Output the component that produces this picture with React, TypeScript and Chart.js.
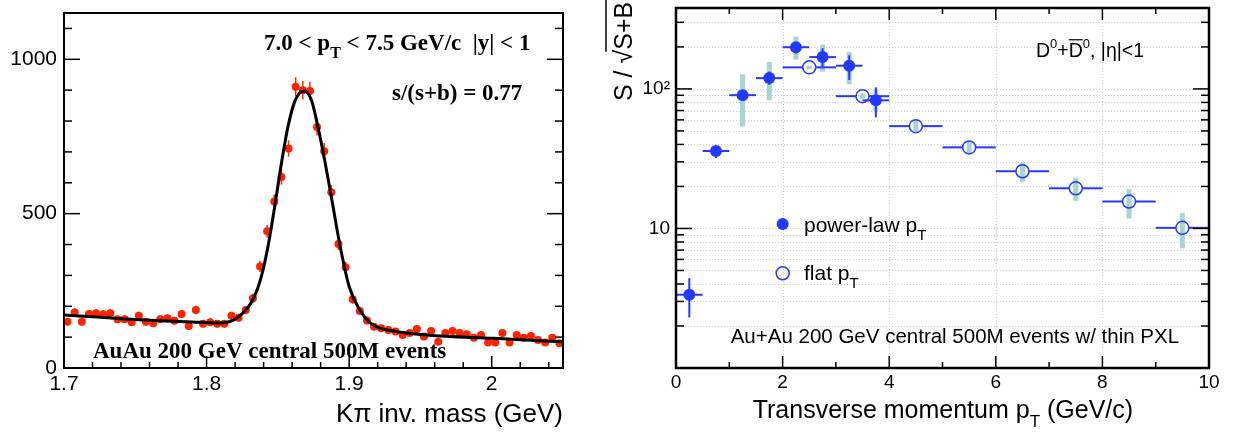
import React, { useEffect, useRef } from 'react';
import { Chart, registerables } from 'chart.js';

Chart.register(...registerables);

const SANS = '"Liberation Sans", Arial, Helvetica, sans-serif';
const SERIF = '"Liberation Serif", "Times New Roman", serif';

// ---------------- Left panel: K-pi invariant mass ----------------
const massBins = [
  1.7025, 1.7075, 1.7125, 1.7175, 1.7225, 1.7275, 1.7325, 1.7375, 1.7425, 1.7475,
  1.7525, 1.7575, 1.7625, 1.7675, 1.7725, 1.7775, 1.7825, 1.7875, 1.7925, 1.7975,
  1.8025, 1.8075, 1.8125, 1.8175, 1.8225, 1.8275, 1.8325, 1.8375, 1.8425, 1.8475,
  1.8525, 1.8575, 1.8625, 1.8675, 1.8725, 1.8775, 1.8825, 1.8875, 1.8925, 1.8975,
  1.9025, 1.9075, 1.9125, 1.9175, 1.9225, 1.9275, 1.9325, 1.9375, 1.9425, 1.9475,
  1.9525, 1.9575, 1.9625, 1.9675, 1.9725, 1.9775, 1.9825, 1.9875, 1.9925, 1.9975,
  2.0025, 2.0075, 2.0125, 2.0175, 2.0225, 2.0275, 2.0325, 2.0375, 2.0425, 2.0475,
];
const massCounts = [
  150, 180, 150, 175, 177, 174, 177, 158, 158, 148,
  169, 150, 145, 158, 161, 153, 175, 136, 188, 143,
  148, 143, 143, 169, 163, 188, 226, 329, 443, 539,
  619, 711, 911, 900, 897, 781, 702, 569, 402, 326,
  223, 185, 154, 134, 129, 123, 118, 107, 113, 126,
  102, 120, 85, 113, 120, 113, 109, 98, 107, 83,
  83, 113, 83, 107, 98, 104, 91, 83, 98, 80,
];
const fitMass = [
  1.7, 1.743, 1.79, 1.8092, 1.8185, 1.8255, 1.8325, 1.8384, 1.8431, 1.8478,
  1.8525, 1.8571, 1.8618, 1.8665, 1.8688, 1.8735, 1.8781, 1.8828, 1.8875, 1.8933,
  1.9, 1.9075, 1.9145, 1.9215, 1.931, 1.9545, 2.0012, 2.05,
];
const fitCounts = [
  172, 159, 149, 146, 154, 178, 221, 296, 394, 523,
  663, 782, 863, 895, 897, 868, 782, 674, 555, 404,
  264, 188, 147, 129, 120, 107, 96, 85,
];
const massTickValues = [1.7, 1.8, 1.9, 2.0];
const massTickLabels = ['1.7', '1.8', '1.9', '2'];
const countTickValues = [0, 500, 1000];
const countTickLabels = ['0', '500', '1000'];

// ---------------- Right panel: S/sqrt(S+B) vs pT ----------------
const powerLawPt = [0.25, 0.75, 1.25, 1.75, 2.25, 2.75, 3.25, 3.75];
const powerLawSig = [3.35, 35.9, 90.2, 119.5, 199, 169, 146.6, 82.8];
const powerLawStatLo = [2.3, 31.9, 85, 107, 179, 144, 116, 62.5];
const powerLawStatHi = [4.4, 39.5, 96, 133, 216, 196, 174, 102.6];
const powerLawSysLo = [null, null, 53.7, 83, 162, 133, 108, 69.6];
const powerLawSysHi = [null, null, 127, 156, 237, 207, 184, 98.9];
const powerLawHalfBin = 0.25;

const flatPt = [2.5, 3.5, 4.5, 5.5, 6.5, 7.5, 8.5, 9.5];
const flatSig = [142.7, 88.7, 54.1, 38.1, 25.7, 19.4, 15.6, 10.1];
const flatSysLo = [139, 85, 49.5, 34, 21.6, 15.7, 11.8, 7.2];
const flatSysHi = [147, 93, 59, 41.8, 29.7, 23.1, 19.1, 12.9];
const flatHalfBin = 0.5;

const ptTickValues = [0, 2, 4, 6, 8, 10];
const sigTickValues = [10, 100];
const sigTickLabels = ['10', '10²'];

const RED = '#ff2200';
const BLUE = '#2538ff';
const TEAL = '#a7d4d4';

type Part = { t: string; size: number; dy?: number; over?: boolean };

function drawRich(ctx: CanvasRenderingContext2D, x: number, y: number, parts: Part[], weight: string, family: string) {
  let cx = x;
  for (const p of parts) {
    ctx.font = `${weight} ${p.size}px ${family}`;
    const w = ctx.measureText(p.t).width;
    ctx.fillText(p.t, cx, y + (p.dy || 0));
    if (p.over) {
      ctx.save();
      ctx.lineWidth = 1.2;
      ctx.strokeStyle = ctx.fillStyle as string;
      ctx.beginPath();
      ctx.moveTo(cx, y - p.size * 0.9);
      ctx.lineTo(cx + w, y - p.size * 0.9);
      ctx.stroke();
      ctx.restore();
    }
    cx += w;
  }
  return cx;
}

function seg(ctx: CanvasRenderingContext2D, x1: number, y1: number, x2: number, y2: number) {
  ctx.beginPath();
  ctx.moveTo(x1, y1);
  ctx.lineTo(x2, y2);
  ctx.stroke();
}

const leftDecor = {
  id: 'leftDecor',
  beforeDatasetsDraw(chart: any) {
    const { ctx, scales: { x, y } } = chart;
    ctx.save();
    ctx.strokeStyle = RED;
    ctx.lineWidth = 1.5;
    massBins.forEach((m, i) => {
      const c = massCounts[i];
      const e = Math.sqrt(c);
      const px = x.getPixelForValue(m);
      seg(ctx, px, y.getPixelForValue(c - e), px, y.getPixelForValue(c + e));
    });
    ctx.restore();
  },
  afterDraw(chart: any) {
    const { ctx, chartArea: a, scales: { x, y } } = chart;
    ctx.save();
    ctx.strokeStyle = '#000';
    ctx.lineWidth = 1.5;
    for (let k = 1; k <= 11; k++) {
      const v = k * 100;
      const py = y.getPixelForValue(v);
      const len = k % 5 === 0 ? 16 : 8;
      seg(ctx, a.left, py, a.left + len, py);
      seg(ctx, a.right, py, a.right - len, py);
    }
    for (let k = 1; k <= 17; k++) {
      const v = 1.7 + 0.02 * k;
      const px = x.getPixelForValue(v);
      const len = k % 5 === 0 ? 12 : 6;
      seg(ctx, px, a.bottom, px, a.bottom - len);
    }
    ctx.lineWidth = 2;
    ctx.strokeRect(a.left, a.top, a.right - a.left, a.bottom - a.top);

    ctx.fillStyle = '#000';
    ctx.textBaseline = 'alphabetic';
    ctx.textAlign = 'left';
    drawRich(ctx, 264, 50, [
      { t: '7.0 < p', size: 23 },
      { t: 'T', size: 16, dy: 8 },
      { t: ' < 7.5 GeV/c  |y| < 1', size: 23 },
    ], 'bold', SERIF);
    drawRich(ctx, 392, 100, [{ t: 's/(s+b) = 0.77', size: 23 }], 'bold', SERIF);
    drawRich(ctx, 93, 358, [{ t: 'AuAu 200 GeV central 500M events', size: 23 }], 'bold', SERIF);

    ctx.font = `26px ${SANS}`;
    ctx.textAlign = 'right';
    ctx.fillText('Kπ inv. mass (GeV)', a.right, 422);
    ctx.restore();
  },
};

const rightDecor = {
  id: 'rightDecor',
  beforeDatasetsDraw(chart: any) {
    const { ctx, chartArea: a, scales: { x, y } } = chart;
    ctx.save();
    // dotted grid
    ctx.strokeStyle = '#cfcfcf';
    ctx.lineWidth = 1;
    ctx.setLineDash([1, 2]);
    for (const dec of [1, 10, 100]) {
      for (let m = 1; m <= 9; m++) {
        const v = dec * m;
        if (v <= 1 || v >= y.max) continue;
        const py = Math.round(y.getPixelForValue(v)) + 0.5;
        seg(ctx, a.left, py, a.right, py);
      }
    }
    for (const v of [2, 4, 6, 8]) {
      const px = Math.round(x.getPixelForValue(v)) + 0.5;
      seg(ctx, px, a.top, px, a.bottom);
    }
    ctx.setLineDash([]);
    // systematic bands
    ctx.fillStyle = TEAL;
    const band = (pt: number, lo: number | null, hi: number | null) => {
      if (lo == null || hi == null) return;
      const px = x.getPixelForValue(pt);
      const y1 = y.getPixelForValue(hi);
      const y2 = y.getPixelForValue(lo);
      ctx.fillRect(px - 2.5, y1, 5, y2 - y1);
    };
    flatPt.forEach((pt, i) => band(pt, flatSysLo[i], flatSysHi[i]));
    powerLawPt.forEach((pt, i) => band(pt, powerLawSysLo[i], powerLawSysHi[i]));
    // statistical / bin-width bars
    ctx.strokeStyle = BLUE;
    ctx.lineWidth = 2;
    flatPt.forEach((pt, i) => {
      const px = x.getPixelForValue(pt);
      const py = y.getPixelForValue(flatSig[i]);
      const r = 6.5;
      seg(ctx, x.getPixelForValue(pt - flatHalfBin), py, px - r, py);
      seg(ctx, px + r, py, x.getPixelForValue(pt + flatHalfBin), py);
    });
    powerLawPt.forEach((pt, i) => {
      const px = x.getPixelForValue(pt);
      const py = y.getPixelForValue(powerLawSig[i]);
      seg(ctx, x.getPixelForValue(pt - powerLawHalfBin), py, x.getPixelForValue(pt + powerLawHalfBin), py);
      seg(ctx, px, y.getPixelForValue(powerLawStatLo[i]), px, y.getPixelForValue(powerLawStatHi[i]));
    });
    ctx.restore();
  },
  afterDraw(chart: any) {
    const { ctx, chartArea: a, scales: { x, y } } = chart;
    ctx.save();
    ctx.strokeStyle = '#000';
    ctx.lineWidth = 1.5;
    for (const dec of [1, 10, 100]) {
      for (let m = 1; m <= 9; m++) {
        const v = dec * m;
        if (v <= 1 || v >= y.max) continue;
        const py = y.getPixelForValue(v);
        const len = m === 1 ? 16 : 8;
        seg(ctx, a.left, py, a.left + len, py);
        seg(ctx, a.right, py, a.right - len, py);
      }
    }
    for (let v = 1; v <= 9; v++) {
      const px = x.getPixelForValue(v);
      const len = v % 2 === 0 ? 12 : 6;
      seg(ctx, px, a.bottom, px, a.bottom - len);
      seg(ctx, px, a.top, px, a.top + len);
    }
    ctx.lineWidth = 2.5;
    ctx.strokeRect(a.left, a.top, a.right - a.left, a.bottom - a.top);

    // legend
    ctx.fillStyle = BLUE;
    ctx.beginPath();
    ctx.arc(182.7, 224, 6, 0, Math.PI * 2);
    ctx.fill();
    ctx.strokeStyle = BLUE;
    ctx.lineWidth = 1.5;
    ctx.beginPath();
    ctx.arc(182.7, 273.3, 6.5, 0, Math.PI * 2);
    ctx.stroke();

    ctx.fillStyle = '#000';
    ctx.textAlign = 'left';
    ctx.textBaseline = 'alphabetic';
    drawRich(ctx, 204, 231.5, [{ t: 'power-law p', size: 21 }, { t: 'T', size: 15, dy: 8 }], '', SANS);
    drawRich(ctx, 204, 280, [{ t: 'flat p', size: 21 }, { t: 'T', size: 15, dy: 8 }], '', SANS);
    drawRich(ctx, 130.7, 343.3, [{ t: 'Au+Au 200 GeV central 500M events w/ thin PXL', size: 20.5 }], '', SANS);
    drawRich(ctx, 436, 57.3, [
      { t: 'D', size: 19.5 },
      { t: '0', size: 13, dy: -9 },
      { t: '+', size: 19.5 },
      { t: 'D', size: 19.5, over: true },
      { t: '0', size: 13, dy: -9 },
      { t: ', |η|<1', size: 19.5 },
    ], '', SANS);

    // x title
    drawRich(ctx, 152.7, 418, [
      { t: 'Transverse momentum p', size: 25 },
      { t: 'T', size: 17, dy: 9 },
      { t: ' (GeV/c)', size: 25 },
    ], '', SANS);

    // y title (rotated)
    ctx.save();
    ctx.translate(32, 101);
    ctx.rotate(-Math.PI / 2);
    ctx.font = `25px ${SANS}`;
    const p1 = 'S / √';
    ctx.fillText(p1, 0, 0);
    const w1 = ctx.measureText(p1).width;
    ctx.fillText('S+B', w1, 0);
    const w2 = ctx.measureText('S+B').width;
    ctx.strokeStyle = '#000';
    ctx.lineWidth = 1.5;
    seg(ctx, w1 - 2, -26, w1 + w2 + 2, -26);
    ctx.restore();
    ctx.restore();
  },
};

function LeftChart() {
  const ref = useRef<HTMLCanvasElement | null>(null);
  useEffect(() => {
    if (!ref.current) return;
    const chart = new Chart(ref.current, {
      type: 'scatter',
      data: {
        datasets: [
          {
            type: 'line',
            data: fitMass.map((m, i) => ({ x: m, y: fitCounts[i] })),
            borderColor: '#000',
            borderWidth: 3,
            pointRadius: 0,
            cubicInterpolationMode: 'monotone',
            fill: false,
            order: 0,
          } as any,
          {
            type: 'scatter',
            data: massBins.map((m, i) => ({ x: m, y: massCounts[i] })),
            backgroundColor: RED,
            borderColor: RED,
            borderWidth: 0,
            pointRadius: 4,
            order: 1,
          } as any,
        ],
      },
      options: {
        animation: false,
        responsive: false,
        layout: { padding: { top: 13, right: 37, left: 0, bottom: 0 } },
        plugins: { legend: { display: false }, tooltip: { enabled: false } },
        scales: {
          x: {
            type: 'linear',
            min: 1.7,
            max: 2.05,
            afterBuildTicks: (s: any) => { s.ticks = massTickValues.map((v) => ({ value: v })); },
            afterFit: (s: any) => { s.height = 67; s.paddingLeft = 0; s.paddingRight = 0; },
            ticks: {
              autoSkip: false,
              maxRotation: 0,
              padding: 4,
              color: '#000',
              font: { family: SANS, size: 21 },
              callback: (v: any) => massTickLabels[massTickValues.findIndex((t) => Math.abs(t - v) < 1e-6)] ?? '',
            },
            grid: { display: false, drawTicks: false },
            border: { display: false },
          },
          y: {
            type: 'linear',
            min: 0,
            max: 1150,
            afterBuildTicks: (s: any) => { s.ticks = countTickValues.map((v) => ({ value: v })); },
            afterFit: (s: any) => { s.width = 64; s.paddingTop = 0; s.paddingBottom = 0; },
            ticks: {
              padding: 7,
              color: '#000',
              font: { family: SANS, size: 21 },
              callback: (v: any) => countTickLabels[countTickValues.indexOf(v)] ?? '',
            },
            grid: { display: false, drawTicks: false },
            border: { display: false },
          },
        },
      } as any,
      plugins: [leftDecor],
    });
    return () => chart.destroy();
  }, []);
  return <canvas ref={ref} width={600} height={435} />;
}

function RightChart() {
  const ref = useRef<HTMLCanvasElement | null>(null);
  useEffect(() => {
    if (!ref.current) return;
    const chart = new Chart(ref.current, {
      type: 'scatter',
      data: {
        datasets: [
          {
            data: flatPt.map((p, i) => ({ x: p, y: flatSig[i] })),
            backgroundColor: 'rgba(0,0,0,0)',
            borderColor: BLUE,
            borderWidth: 1.5,
            pointRadius: 6.5,
          },
          {
            data: powerLawPt.map((p, i) => ({ x: p, y: powerLawSig[i] })),
            backgroundColor: BLUE,
            borderColor: BLUE,
            borderWidth: 0,
            pointRadius: 6,
          },
        ],
      },
      options: {
        animation: false,
        responsive: false,
        layout: { padding: { top: 2, right: 28, left: 0, bottom: 0 } },
        plugins: { legend: { display: false }, tooltip: { enabled: false } },
        scales: {
          x: {
            type: 'linear',
            min: 0,
            max: 10,
            afterBuildTicks: (s: any) => { s.ticks = ptTickValues.map((v) => ({ value: v })); },
            afterFit: (s: any) => { s.height = 67; s.paddingLeft = 0; s.paddingRight = 0; },
            ticks: {
              autoSkip: false,
              maxRotation: 0,
              padding: 3,
              color: '#000',
              font: { family: SANS, size: 19 },
              callback: (v: any) => String(v),
            },
            grid: { display: false, drawTicks: false },
            border: { display: false },
          },
          y: {
            type: 'logarithmic',
            min: 1,
            max: 380,
            afterBuildTicks: (s: any) => { s.ticks = sigTickValues.map((v) => ({ value: v })); },
            afterFit: (s: any) => { s.width = 76; s.paddingTop = 0; s.paddingBottom = 0; },
            ticks: {
              padding: 6,
              color: '#000',
              font: { family: SANS, size: 19 },
              callback: (v: any) => sigTickLabels[sigTickValues.indexOf(v)] ?? '',
            },
            grid: { display: false, drawTicks: false },
            border: { display: false },
          },
        },
      } as any,
      plugins: [rightDecor],
    });
    return () => chart.destroy();
  }, []);
  return <canvas ref={ref} width={637} height={435} />;
}

export default function App() {
  return (
    <div style={{ position: 'fixed', left: 0, top: 0, width: 1237, height: 435, background: '#fff' }}>
      <div style={{ position: 'absolute', left: 0, top: 0, width: 600, height: 435 }}>
        <LeftChart />
      </div>
      <div style={{ position: 'absolute', left: 600, top: 0, width: 637, height: 435 }}>
        <RightChart />
      </div>
    </div>
  );
}
